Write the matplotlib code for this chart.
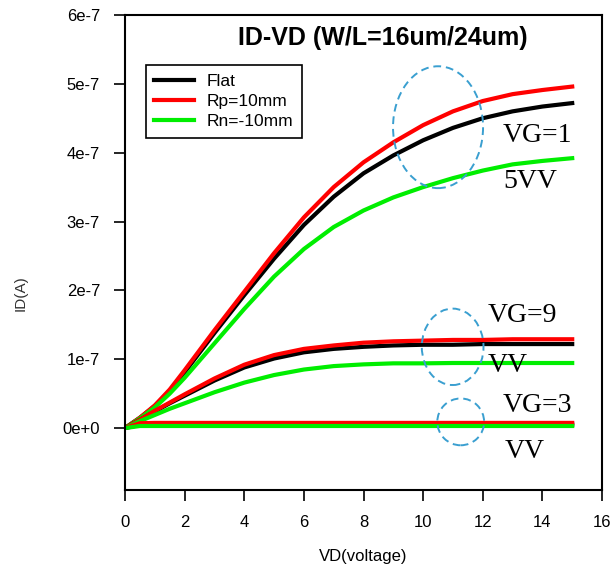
import numpy as np
import matplotlib
matplotlib.use('Agg')
import matplotlib.pyplot as plt
from matplotlib.patches import Ellipse
from matplotlib.ticker import FuncFormatter

plt.rcParams['font.family'] = ['Liberation Sans', 'DejaVu Sans']

# VD (V) and ID (units of 1e-7 A)
vd = [0, 0.5, 1, 1.5, 2, 3, 4, 5, 6, 7, 8, 9, 10, 11, 12, 13, 14, 15]

flat_vg15 = [0, 0.15, 0.32, 0.54, 0.81, 1.38, 1.93, 2.46, 2.95, 3.36, 3.7, 3.96, 4.18, 4.36, 4.5, 4.6, 4.67, 4.72]
rp_vg15 = [0, 0.15, 0.33, 0.56, 0.84, 1.42, 1.98, 2.54, 3.06, 3.5, 3.86, 4.15, 4.4, 4.6, 4.75, 4.85, 4.91, 4.96]
rn_vg15 = [0, 0.14, 0.3, 0.5, 0.73, 1.23, 1.73, 2.2, 2.6, 2.92, 3.16, 3.35, 3.5, 3.63, 3.74, 3.83, 3.88, 3.92]

flat_vg9 = [0, 0.12, 0.24, 0.36, 0.47, 0.69, 0.88, 1.01, 1.1, 1.15, 1.18, 1.2, 1.21, 1.21, 1.22, 1.22, 1.22, 1.22]
rp_vg9 = [0, 0.12, 0.25, 0.37, 0.49, 0.72, 0.92, 1.06, 1.15, 1.2, 1.24, 1.26, 1.27, 1.28, 1.28, 1.29, 1.29, 1.29]
rn_vg9 = [0, 0.1, 0.19, 0.28, 0.36, 0.52, 0.66, 0.77, 0.85, 0.9, 0.925, 0.94, 0.94, 0.945, 0.945, 0.945, 0.945, 0.945]

flat_vg3 = [0, 0.045, 0.05, 0.05, 0.05, 0.05, 0.05, 0.05, 0.05, 0.05, 0.05, 0.05, 0.05, 0.05, 0.05, 0.05, 0.05, 0.05]
rp_vg3 = [0, 0.07, 0.075, 0.075, 0.075, 0.075, 0.075, 0.075, 0.075, 0.075, 0.075, 0.075, 0.075, 0.075, 0.075, 0.075, 0.075, 0.075]
rn_vg3 = [0, 0.03, 0.03, 0.03, 0.03, 0.03, 0.03, 0.03, 0.03, 0.03, 0.03, 0.03, 0.03, 0.03, 0.03, 0.03, 0.03, 0.03]

labels = ['Flat', 'Rp=10mm', 'Rn=-10mm']
colors = ['black', '#ff0000', '#00ee00']

vd = np.array(vd)
scale = 1e-7

fig = plt.figure(figsize=(6.11, 5.65), dpi=100)
ax = fig.add_axes([0.2046, 0.1327, 0.7807, 0.8408])

groups = [
    (flat_vg15, rp_vg15, rn_vg15),
    (flat_vg9, rp_vg9, rn_vg9),
    (flat_vg3, rp_vg3, rn_vg3),
]
for gi, grp in enumerate(groups):
    for ys, c, lab in zip(grp, colors, labels):
        ax.plot(vd, np.array(ys) * scale, color=c, lw=3.0,
                label=lab if gi == 0 else None, solid_joinstyle='round')

# dashed ellipses
ell_color = '#3a9fd0'
for (cx, cy, w, h) in [(10.5, 4.37, 3.02, 1.77), (10.99, 1.18, 2.07, 1.11), (11.26, 0.09, 1.57, 0.68)]:
    ax.add_patch(Ellipse((cx, cy * scale), w, h * scale, fill=False,
                         ec=ell_color, lw=1.4, ls=(0, (4, 2.5)), zorder=5))

# annotations
serif = dict(family=['Liberation Serif', 'DejaVu Serif'], fontsize=20, va='baseline')
ax.text(12.68, 4.16e-7, 'VG=1', **serif)
ax.text(12.68, 3.49e-7, '5VV', **serif)
ax.text(12.15, 1.54e-7, 'VG=9', **serif)
ax.text(12.18, 0.81e-7, 'VV', **serif)
ax.text(12.68, 0.23e-7, 'VG=3', **serif)
ax.text(12.72, -0.44e-7, 'VV', **serif)

ax.text(0.541, 0.952, 'ID-VD (W/L=16um/24um)', transform=ax.transAxes,
        ha='center', va='center', fontsize=18, fontweight='bold')

ax.set_xlim(0, 16)
ax.set_ylim(-0.9e-7, 6e-7)
ax.set_xticks(np.arange(0, 17, 2))
ax.set_yticks(np.arange(0, 7) * scale)
ax.yaxis.set_major_formatter(FuncFormatter(lambda v, p: '0e+0' if round(v / scale) == 0 else '%de-7' % round(v / scale)))
ax.tick_params(direction='out', length=8, width=1.2, labelsize=12)
ax.tick_params(axis='y', pad=10)
ax.tick_params(axis='x', pad=10)
for s in ax.spines.values():
    s.set_linewidth(1.5)

ax.set_xlabel('VD(voltage)', fontsize=12, labelpad=14)
ax.set_ylabel('ID(A)', fontsize=11, color='#333333')
ax.yaxis.set_label_coords(-0.205, 0.415)

leg = ax.legend(loc='upper left', bbox_to_anchor=(0.043, 0.895), borderaxespad=0,
                fontsize=12.5, fancybox=False, edgecolor='black', framealpha=1,
                handlelength=2.3, handletextpad=0.7, borderpad=0.5, labelspacing=0.3)
leg.get_frame().set_linewidth(1.2)

fig.savefig('out.png', dpi=100)
